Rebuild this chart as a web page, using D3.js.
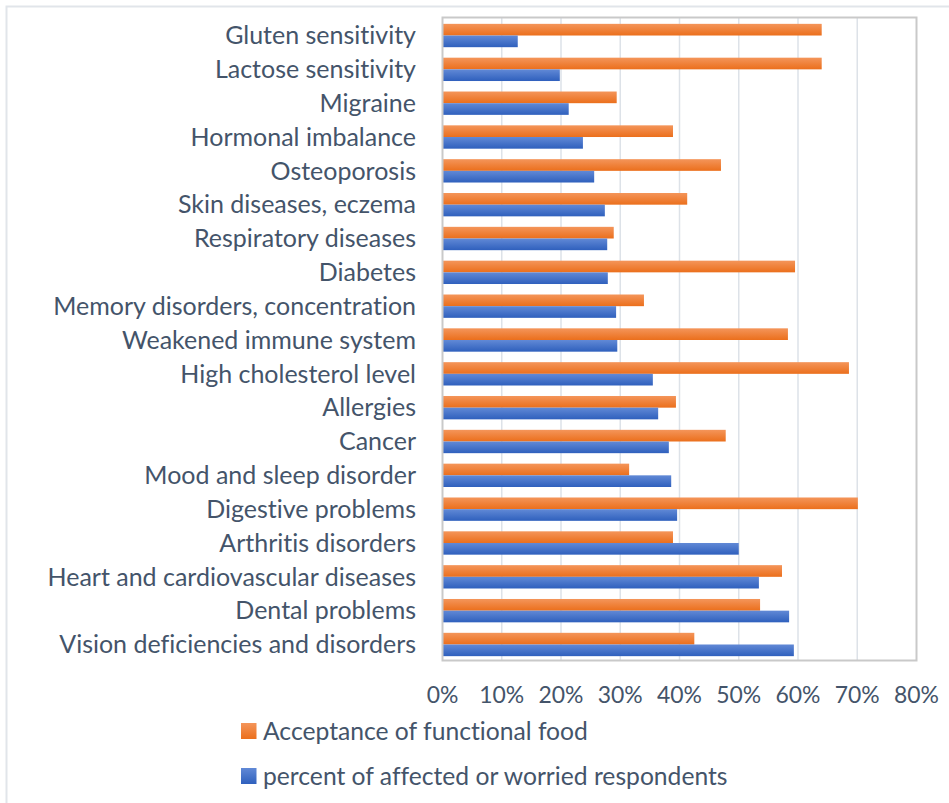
<!DOCTYPE html>
<html>
<head>
<meta charset="utf-8">
<script src="https://cdn.jsdelivr.net/npm/d3@7"></script>
<style>
  html, body { margin: 0; padding: 0; background: #fff; }
  svg { display: block; }
  text { font-family: Lato, "Open Sans", sans-serif; fill: #44546a; font-variant-ligatures: none; font-feature-settings: "liga" 0, "clig" 0; }
</style>
</head>
<body>
<svg id="chart" width="949" height="803"></svg>
<script>
const categories = [
  "Gluten sensitivity",
  "Lactose sensitivity",
  "Migraine",
  "Hormonal imbalance",
  "Osteoporosis",
  "Skin diseases, eczema",
  "Respiratory diseases",
  "Diabetes",
  "Memory disorders, concentration",
  "Weakened immune system",
  "High cholesterol level",
  "Allergies",
  "Cancer",
  "Mood and sleep disorder",
  "Digestive problems",
  "Arthritis disorders",
  "Heart and cardiovascular diseases",
  "Dental problems",
  "Vision deficiencies and disorders"
];
const acceptance = [64.0, 64.0, 29.4, 38.9, 47.0, 41.3, 28.9, 59.5, 34.0, 58.3, 68.6, 39.4, 47.8, 31.5, 70.1, 38.9, 57.3, 53.6, 42.5];
const affected   = [12.7, 19.8, 21.3, 23.7, 25.6, 27.4, 27.8, 27.9, 29.3, 29.5, 35.5, 36.4, 38.2, 38.6, 39.6, 50.0, 53.4, 58.5, 59.3];
const seriesNames = ["Acceptance of functional food", "percent of affected or worried respondents"];
const seriesKeys = ["acceptance", "affected"];
const xTicks = [0, 10, 20, 30, 40, 50, 60, 70, 80];

const rows = categories.map((c, i) => ({ cat: c, acceptance: acceptance[i], affected: affected[i] }));

const svg = d3.select("#chart");
const pLeft = 442.5, pRight = 916.5, pTop = 18.6, pBottom = 661.4;

// gradients
const defs = svg.append("defs");
const grads = [
  { id: "gOrange", c1: "#f4955a", c2: "#eb6f1c" },
  { id: "gBlue", c1: "#6189d6", c2: "#2f60bd" }
];
grads.forEach(g => {
  const lg = defs.append("linearGradient").attr("id", g.id).attr("x1", 0).attr("y1", 0).attr("x2", 0).attr("y2", 1);
  lg.append("stop").attr("offset", "0%").attr("stop-color", g.c1);
  lg.append("stop").attr("offset", "100%").attr("stop-color", g.c2);
});
const colorMap = { acceptance: "url(#gOrange)", affected: "url(#gBlue)" };

// outer chart border
svg.append("path").attr("d", "M6.5,803 L6.5,6.5 L949,6.5")
  .attr("fill", "none").attr("stroke", "#e1e5ea").attr("stroke-width", 2);

const x = d3.scaleLinear().domain([0, 80]).range([pLeft, pRight]);
const y = d3.scaleBand().domain(categories).range([pTop, pBottom]).paddingInner(0.31).paddingOuter(0.155);
const ySub = d3.scaleBand().domain(seriesKeys).range([0, y.bandwidth()]);

// gridlines
svg.append("g").selectAll("line").data(xTicks.filter(t => t > 0 && t < 80)).join("line")
  .attr("x1", d => x(d)).attr("x2", d => x(d))
  .attr("y1", 17.5).attr("y2", 660.5)
  .attr("stroke", "#dde2e8").attr("stroke-width", 1.5);

// bars
const groups = svg.append("g").selectAll("g").data(rows).join("g")
  .attr("transform", d => `translate(0,${y(d.cat)})`);
groups.selectAll("rect").data(d => seriesKeys.map(k => ({ key: k, value: d[k] }))).join("rect")
  .attr("x", x(0))
  .attr("y", d => ySub(d.key))
  .attr("width", d => x(d.value) - x(0))
  .attr("height", ySub.bandwidth())
  .attr("fill", d => colorMap[d.key]);

// plot border
svg.append("rect").attr("x", 442.5).attr("y", 17.5).attr("width", 474).attr("height", 643)
  .attr("fill", "none").attr("stroke", "#c9c9c9").attr("stroke-width", 2);

function fit(sample, target, base) {
  const t = svg.append("text").attr("font-size", base).text(sample);
  const w = t.node().getComputedTextLength();
  t.remove();
  return base * target / w;
}

// category labels
const catSize = fit("Memory disorders, concentration", 363, 24);
svg.append("g").selectAll("text").data(categories).join("text")
  .attr("x", 416)
  .attr("y", d => y(d) + y.bandwidth() / 2)
  .attr("dy", "0.35em")
  .attr("text-anchor", "end")
  .attr("font-size", catSize)
  .text(d => d);

// x tick labels
const tickSize = fit("80%", 45, 24);
svg.append("g").selectAll("text").data(xTicks).join("text")
  .attr("x", d => x(d))
  .attr("y", 695)
  .attr("dy", "0.35em")
  .attr("text-anchor", "middle")
  .attr("font-size", tickSize)
  .text(d => d + "%");

// legend
const legSize = fit(seriesNames[0], 325, 24);
const legY = [731, 776];
const legColors = ["url(#gOrange)", "url(#gBlue)"];
const leg = svg.append("g").selectAll("g").data(seriesNames).join("g")
  .attr("transform", (d, i) => `translate(241,${legY[i]})`);
leg.append("rect").attr("x", 0).attr("y", -8).attr("width", 15.5).attr("height", 16)
  .attr("fill", (d, i) => legColors[i]);
leg.append("text").attr("x", 22).attr("y", 0).attr("dy", "0.35em")
  .attr("font-size", legSize).text(d => d);
</script>
</body>
</html>
